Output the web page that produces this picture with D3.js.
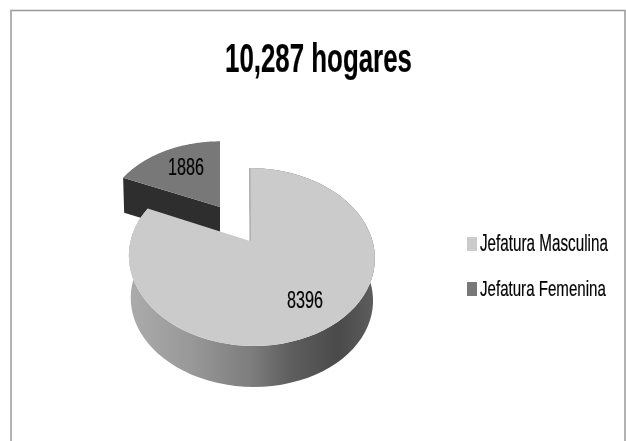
<!DOCTYPE html>
<html><head><meta charset="utf-8">
<script src="https://cdn.jsdelivr.net/npm/d3@7"></script>
<style>html,body{margin:0;padding:0;background:#fff}svg{display:block}text{font-family:"Liberation Sans Narrow","Liberation Sans",sans-serif;fill:#000;stroke:#000;stroke-width:0.2}</style>
</head><body><svg id="c" width="626" height="441"></svg>
<script>
const categories = ["Jefatura Masculina", "Jefatura Femenina"];
const values = [8396, 1886];
const title = "10,287 hogares";
const colors = ["#cbcbcb", "#787878"];

const svg = d3.select("#c");
const defs = svg.append("defs");
const grad = defs.append("linearGradient").attr("id","wall").attr("gradientUnits","userSpaceOnUse")
  .attr("x1",130).attr("x2",375).attr("y1",0).attr("y2",0);
[[0,"#ababab"],[0.25,"#989898"],[0.5,"#7c7c7c"],[0.65,"#5f5f5f"],[0.85,"#4a4a4a"],[1,"#5e5e5e"]]
  .forEach(([o,c])=>grad.append("stop").attr("offset",o).attr("stop-color",c));
defs.append("filter").attr("id","soft").append("feGaussianBlur").attr("stdDeviation",0.35);

svg.append("path").attr("d","M11,441V10.5H625V441").attr("fill","none").attr("stroke","#999").attr("stroke-width",1.5);

const arcs = d3.pie().sort(null).value(d=>d)(values);
const P = 0.18;
const project = (o, t) => {
  const d = 1+P*Math.cos(t);
  return [o.x + (121*o.sx*Math.sin(t) + o.shear*Math.cos(t))/d, o.y - 86.1*o.sy*Math.cos(t)/d];
};
const samples = (a,b) => d3.range(0,81).map(i=>a+(b-a)*i/80);
const line = d3.line();
const main = {x:251.5, y:241, sx:1, sy:1, shear:-2};
const mainBase = {x:251.5, y:283.5, sx:0.985, sy:0.985, shear:-2};
const apexM = [250,241];
const small = {x:220, y:207, sx:0.94, sy:0.9, shear:0};
const [a0,a1] = [arcs[0].startAngle, arcs[0].endAngle];
const [b0,b1] = [arcs[1].startAngle, arcs[1].endAngle];

const smallDepth = 35;
const leftPt = project(small,b0), apexS=[small.x,small.y];
svg.append("path").attr("d",line([leftPt,apexS,[apexS[0],apexS[1]+smallDepth],[leftPt[0]+1,leftPt[1]+smallDepth]])+"Z").attr("fill","#2e2e2e");
svg.append("path").attr("d",line([apexS,...samples(b0,b1).map(t=>project(small,t))])+"Z").attr("fill",colors[1]);

const wallTop = samples(a0,a1).map(t=>project(main,t));
const wallBot = samples(a0,a1).map(t=>project(mainBase,t)).reverse();
svg.append("path").attr("d",line([...wallTop,...wallBot])+"Z").attr("fill","url(#wall)");
svg.append("path").attr("d",line([apexM,...wallTop])+"Z").attr("fill",colors[0]);
svg.append("line").attr("x1",apexM[0]).attr("y1",apexM[1]).attr("x2",wallTop[0][0]).attr("y2",wallTop[0][1]).attr("stroke","#8a8a8a").attr("stroke-width",0.8);

const g = svg.append("g").attr("filter","url(#soft)");
const label = (s,x,y,size,len,weight) => {
  const t = g.append("text").text(s).attr("font-size",size).attr("font-weight",weight||"normal");
  const w = t.node().getComputedTextLength();
  t.attr("transform",`translate(${x},${y}) scale(${len/w},1)`);
};
label(title,225,71.5,40,187,"bold");
label(values[1],168,175,24,36);
label(values[0],287,308,24,36);

const ly = d3.scalePoint().domain(categories).range([237,282]);
categories.forEach((c,i)=>{
  svg.append("rect").attr("x",467).attr("y",ly(c)).attr("width",10).attr("height",14).attr("fill",colors[i]);
  label(c,480,ly(c)+14,23,i?126:128);
});
</script></body></html>
